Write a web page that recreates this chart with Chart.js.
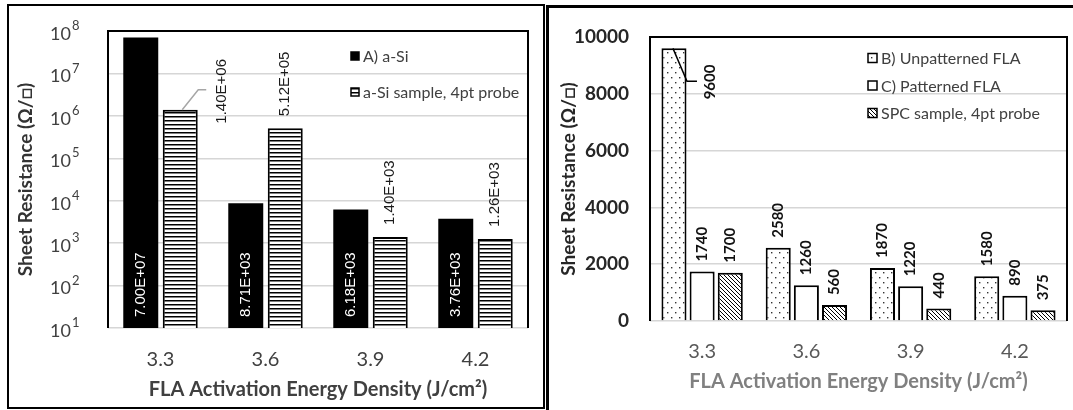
<!DOCTYPE html>
<html>
<head>
<meta charset="utf-8">
<title>Sheet resistance vs FLA energy density</title>
<script src="https://cdn.jsdelivr.net/npm/chart.js@4.4.1/dist/chart.umd.min.js"></script>
<style>
  body { margin: 0; background: #fff; width: 1073px; height: 410px; overflow: hidden; position: relative; }
  canvas { position: absolute; top: 0; }
  #left-chart { left: 0; }
  #right-chart { left: 545px; }
  .frame { position: absolute; box-sizing: border-box; border: 2px solid #000; pointer-events: none; }
  #left-frame { left: 7px; top: 4px; width: 538px; height: 405px; }
  #right-frame { left: 546px; top: 5px; width: 600px; height: 420px; border-width: 3px; }
</style>
</head>
<body>
<canvas id="left-chart" width="545" height="410"></canvas>
<canvas id="right-chart" width="528" height="410"></canvas>
<div class="frame" id="left-frame"></div>
<div class="frame" id="right-frame"></div>
<script>
const energyLabels = ['3.3', '3.6', '3.9', '4.2'];

// a-Si panel (log scale)
const aSiValues = [7.00e7, 8.71e3, 6.18e3, 3.76e3];
const aSiProbeValues = [1.40e6, 5.12e5, 1.40e3, 1.26e3];
const logTicks = [1e1, 1e2, 1e3, 1e4, 1e5, 1e6, 1e7, 1e8];

// FLA panel (linear scale)
const unpatternedValues = [9600, 2580, 1870, 1580];
const patternedValues = [1740, 1260, 1220, 890];
const spcProbeValues = [1700, 560, 440, 375];

const FONT = "Lato, 'Open Sans', sans-serif";
const ARIAL = "'Liberation Sans', Arial, sans-serif";
const AXIS_TITLE = 'Sheet Resistance (Ω/□)';
const X_TITLE = 'FLA Activation Energy Density (J/cm²)';

function makePattern(w, h, draw) {
    const c = document.createElement('canvas');
    c.width = w;
    c.height = h;
    const g = c.getContext('2d');
    g.fillStyle = '#fff';
    g.fillRect(0, 0, w, h);
    draw(g);
    return g.createPattern(c, 'repeat');
}

const stripes = makePattern(4, 4, g => {
    g.fillStyle = '#000';
    g.fillRect(0, 0, 4, 1.5);
});
const hatch = makePattern(4, 4, g => {
    g.strokeStyle = '#000';
    g.lineWidth = 1;
    g.beginPath();
    g.moveTo(0, 0); g.lineTo(4, 4);
    g.moveTo(-1, 3); g.lineTo(1, 5);
    g.moveTo(3, -1); g.lineTo(5, 1);
    g.stroke();
});
const dots = makePattern(8, 10, g => {
    g.fillStyle = '#333';
    g.fillRect(2, 2, 1.4, 1.4);
    g.fillRect(6, 7, 1.4, 1.4);
});

function sciLabel(v) {
    const [m, e] = v.toExponential(2).split('e');
    const n = parseInt(e, 10);
    return m + 'E' + (n < 0 ? '-' : '+') + String(Math.abs(n)).padStart(2, '0');
}

// black frame round the plot area (bottom edge stays the grey axis line)
const plotFrame = {
    id: 'plotFrame',
    afterDatasetsDraw(chart) {
        const { ctx, chartArea: a } = chart;
        ctx.save();
        ctx.strokeStyle = '#000';
        ctx.lineWidth = 2;
        ctx.beginPath();
        ctx.moveTo(a.left, a.bottom);
        ctx.lineTo(a.left, a.top);
        ctx.lineTo(a.right, a.top);
        ctx.lineTo(a.right, a.bottom);
        ctx.stroke();
        ctx.restore();
    }
};

// rotated value labels, with optional moved labels and leader lines
const valueLabels = {
    id: 'valueLabels',
    afterDatasetsDraw(chart, args, opts) {
        const ctx = chart.ctx;
        chart.data.datasets.forEach((ds, di) => {
            const meta = chart.getDatasetMeta(di);
            meta.data.forEach((bar, i) => {
                const text = opts.format(ds.data[i]);
                const inside = ds.labelInside;
                let x = bar.x;
                let y = inside ? bar.base - opts.insideGap : bar.y - opts.gap;
                const move = opts.moves[di + ':' + i];
                ctx.save();
                if (move) {
                    ctx.strokeStyle = move.color;
                    ctx.lineWidth = move.width;
                    ctx.beginPath();
                    move.leader.forEach((p, k) => {
                        const fn = k === 0 ? 'moveTo' : 'lineTo';
                        ctx[fn](bar.x + p[0], bar.y + p[1]);
                    });
                    ctx.stroke();
                    x = bar.x + move.dx;
                    y = bar.y + move.dy;
                }
                ctx.translate(x, y);
                ctx.rotate(-Math.PI / 2);
                ctx.font = opts.font;
                ctx.fillStyle = inside ? '#fff' : opts.color;
                ctx.textAlign = 'left';
                ctx.textBaseline = 'middle';
                ctx.fillText(text, 0, 0);
                ctx.restore();
            });
        });
    }
};

// legend drawn inside the plot area
const innerLegend = {
    id: 'innerLegend',
    afterDraw(chart, args, opts) {
        const { ctx, chartArea: a } = chart;
        ctx.save();
        ctx.font = opts.font;
        ctx.textBaseline = 'middle';
        ctx.textAlign = 'left';
        chart.data.datasets.forEach((ds, i) => {
            const x = a.left + opts.x;
            const y = a.top + opts.y + i * opts.step;
            const s = opts.box;
            ctx.fillStyle = ds.backgroundColor;
            ctx.fillRect(x, y - s / 2, s, s);
            ctx.strokeStyle = '#000';
            ctx.lineWidth = 1.5;
            ctx.strokeRect(x, y - s / 2, s, s);
            ctx.fillStyle = opts.color;
            ctx.fillText(ds.label, x + s + 4, y + 1);
        });
        ctx.restore();
    }
};

// 10^n tick labels for the log axis
const powerTicks = {
    id: 'powerTicks',
    afterDraw(chart) {
        const { ctx } = chart;
        const scale = chart.scales.y;
        const xr = scale.right - 37;
        ctx.save();
        ctx.fillStyle = '#404040';
        ctx.textBaseline = 'middle';
        scale.ticks.forEach(t => {
            const py = scale.getPixelForValue(t.value);
            const exp = Math.round(Math.log10(t.value));
            ctx.font = '18px ' + FONT;
            ctx.textAlign = 'right';
            ctx.fillText('10', xr, py + 3);
            ctx.font = '13px ' + FONT;
            ctx.textAlign = 'left';
            ctx.fillText(String(exp), xr + 1, py - 5);
        });
        ctx.restore();
    }
};

const gridStyle = { color: '#d6d6d6', lineWidth: 1.5, drawTicks: false };

new Chart(document.getElementById('left-chart'), {
    type: 'bar',
    data: {
        labels: energyLabels,
        datasets: [
            { label: 'A) a-Si', data: aSiValues, backgroundColor: '#000', borderColor: '#000', borderWidth: 0, labelInside: true },
            { label: 'a-Si sample, 4pt probe', data: aSiProbeValues, backgroundColor: stripes, borderColor: '#000', borderWidth: 2 }
        ]
    },
    options: {
        responsive: false,
        animation: false,
        layout: { padding: { top: 31, right: 17, left: 0, bottom: 0 } },
        datasets: { bar: { categoryPercentage: 0.752, barPercentage: 0.886 } },
        plugins: {
            legend: { display: false },
            tooltip: { enabled: false },
            valueLabels: {
                format: sciLabel,
                font: '15px ' + ARIAL,
                color: '#1a1a1a',
                gap: 12,
                insideGap: 11,
                moves: { '1:0': { dx: 42, dy: 14, leader: [[2, 0], [18, -20], [26, -20]], color: '#a6a6a6', width: 1.5 } }
            },
            innerLegend: { x: 243, y: 25, step: 36, box: 8, font: '16px ' + FONT, color: '#404040' }
        },
        scales: {
            x: {
                grid: { display: false, drawTicks: false },
                border: { display: false },
                ticks: { color: '#404040', font: { family: FONT, size: 20 }, padding: 20 },
                title: { display: true, text: X_TITLE, color: '#404040', font: { family: FONT, size: 20, weight: 'bold' }, padding: { top: 0, bottom: 8 } },
                afterFit: s => { s.height = 82; }
            },
            y: {
                type: 'logarithmic',
                min: 10,
                max: 1e8,
                afterBuildTicks: s => { s.ticks = logTicks.map(v => ({ value: v })); },
                afterFit: s => { s.width = 108; },
                grid: gridStyle,
                border: { display: false },
                ticks: { display: false },
                title: { display: true, text: AXIS_TITLE, color: '#333', font: { family: FONT, size: 19, weight: 'bold' }, padding: { top: 14.5, bottom: 0 } }
            }
        }
    },
    plugins: [plotFrame, valueLabels, innerLegend, powerTicks]
});

new Chart(document.getElementById('right-chart'), {
    type: 'bar',
    data: {
        labels: energyLabels,
        datasets: [
            { label: 'B) Unpatterned FLA', data: unpatternedValues, backgroundColor: dots, borderColor: '#000', borderWidth: 2 },
            { label: 'C) Patterned FLA', data: patternedValues, backgroundColor: '#fff', borderColor: '#000', borderWidth: 2 },
            { label: 'SPC sample, 4pt probe', data: spcProbeValues, backgroundColor: hatch, borderColor: '#000', borderWidth: 2 }
        ]
    },
    options: {
        responsive: false,
        animation: false,
        layout: { padding: { top: 37, right: 6, left: 0, bottom: 0 } },
        datasets: { bar: { categoryPercentage: 0.81, barPercentage: 0.89 } },
        plugins: {
            legend: { display: false },
            tooltip: { enabled: false },
            valueLabels: {
                format: v => String(v),
                font: 'bold 15px ' + FONT,
                color: '#111',
                gap: 10,
                insideGap: 0,
                moves: { '0:0': { dx: 36, dy: 51, leader: [[-1, 0], [13, 33], [23, 33]], color: '#000', width: 1.5 } }
            },
            innerLegend: { x: 218, y: 21, step: 27.5, box: 9, font: '16px ' + FONT, color: '#404040' }
        },
        scales: {
            x: {
                grid: { display: false, drawTicks: false },
                border: { display: false },
                ticks: { color: '#595959', font: { family: FONT, size: 20 }, padding: 19 },
                title: { display: true, text: X_TITLE, color: '#808080', font: { family: FONT, size: 20, weight: 'bold' }, padding: { top: 0, bottom: 16 } },
                afterFit: s => { s.height = 89; }
            },
            y: {
                min: 0,
                max: 10000,
                afterFit: s => { s.width = 105; },
                grid: gridStyle,
                border: { display: false },
                ticks: { stepSize: 2000, callback: v => String(v), color: '#262626', font: { family: FONT, size: 19, weight: 'bold' }, padding: 21 },
                title: { display: true, text: AXIS_TITLE, color: '#262626', font: { family: FONT, size: 19, weight: 'bold' }, padding: { top: 12.5, bottom: 0 } }
            }
        }
    },
    plugins: [plotFrame, valueLabels, innerLegend]
});
</script>
</body>
</html>
